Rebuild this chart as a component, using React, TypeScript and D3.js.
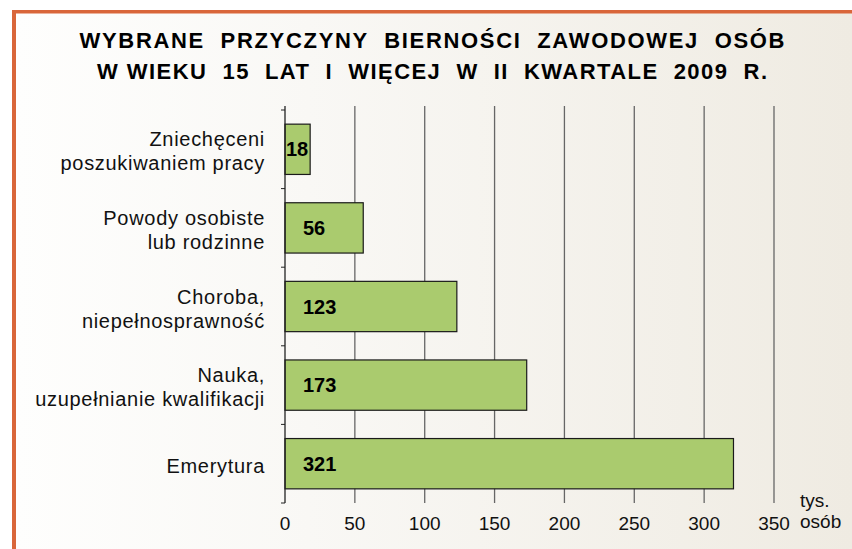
import React from "react";
import * as d3 from "d3";

const titleLines = [
  "WYBRANE  PRZYCZYNY  BIERNOŚCI  ZAWODOWEJ  OSÓB",
  "W WIEKU  15  LAT  I  WIĘCEJ  W  II  KWARTALE  2009  R.",
];
const categories = [
  ["Zniechęceni", "poszukiwaniem pracy"],
  ["Powody osobiste", "lub rodzinne"],
  ["Choroba,", "niepełnosprawność"],
  ["Nauka,", "uzupełnianie kwalifikacji"],
  ["Emerytura"],
];
const values = [18, 56, 123, 173, 321];
const xTicks = [0, 50, 100, 150, 200, 250, 300, 350];
const unitLabel = ["tys.", "osób"];

const W = 852;
const H = 549;
const FONT = "'Liberation Sans', Arial, sans-serif";

export default function App() {
  const x = d3.scaleLinear().domain([0, 350]).range([285, 774]);
  const keys = categories.map((c) => c.join(" "));
  const y = d3
    .scaleBand<string>()
    .domain(keys)
    .range([110, 503])
    .paddingInner(0.36)
    .paddingOuter(0.18);
  const step = y.step();
  const top = 110;
  const bottom = 503;
  const x0 = x(0);

  return (
    <svg
      width={W}
      height={H}
      style={{ position: "absolute", left: 0, top: 0 }}
      fontFamily={FONT}
    >
      <defs>
        <linearGradient id="bg" x1="0" y1="0" x2="1" y2="0">
          <stop offset="0" stopColor="#fefefd" />
          <stop offset="0.35" stopColor="#f9f8f5" />
          <stop offset="1" stopColor="#efebe2" />
        </linearGradient>
      </defs>
      <rect x={0} y={0} width={W} height={H} fill="#ffffff" />
      <rect x={16} y={13} width={W - 16} height={H - 13} fill="url(#bg)" />
      <rect x={12} y={10} width={W - 12} height={3.5} fill="#d9663a" />
      <rect x={12} y={10} width={4} height={H - 10} fill="#d9663a" />

      {titleLines.map((t, i) => (
        <text
          key={i}
          x={432}
          y={48 + i * 31}
          textAnchor="middle"
          fontSize={22}
          fontWeight="bold"
          fill="#000"
          textLength={i === 0 ? 705 : 670}
          lengthAdjust="spacing"
          style={{ whiteSpace: "pre" }}
        >
          {t}
        </text>
      ))}

      {/* gridlines */}
      {xTicks.slice(1).map((t) => (
        <line
          key={t}
          x1={x(t)}
          x2={x(t)}
          y1={106}
          y2={bottom}
          stroke="#666"
          strokeWidth={1.3}
        />
      ))}

      {/* bars */}
      {keys.map((k, i) => (
        <rect
          key={k}
          x={x0}
          y={y(k)!}
          width={x(values[i]) - x0}
          height={y.bandwidth()}
          fill="#aacb6e"
          stroke="#1a1a1a"
          strokeWidth={1.2}
        />
      ))}

      {/* y axis */}
      <line x1={x0} x2={x0} y1={106} y2={bottom} stroke="#222" strokeWidth={1.3} />
      {d3.range(keys.length + 1).map((k) => (
        <line
          key={k}
          x1={x0 - 4}
          x2={x0}
          y1={top + k * step}
          y2={top + k * step}
          stroke="#222"
          strokeWidth={1}
        />
      ))}

      {/* value labels */}
      {keys.map((k, i) => {
        const w = x(values[i]) - x0;
        const c = y(k)! + y.bandwidth() / 2;
        return (
          <text
            key={k}
            x={w < 40 ? x0 + 1 : x0 + 18}
            y={c + 7}
            fontSize={20}
            fontWeight="bold"
            fill="#000"
          >
            {values[i]}
          </text>
        );
      })}

      {/* category labels */}
      {categories.map((lines, i) => {
        const c = y(keys[i])! + y.bandwidth() / 2;
        return lines.map((l, j) => (
          <text
            key={i + "-" + j}
            x={265}
            y={lines.length === 1 ? c + 9 : c - 3 + j * 24}
            textAnchor="end"
            fontSize={20}
            fill="#111"
            letterSpacing={0.7}
          >
            {l}
          </text>
        ));
      })}

      {/* x tick labels */}
      {xTicks.map((t) => (
        <text
          key={t}
          x={x(t)}
          y={530}
          textAnchor="middle"
          fontSize={19}
          fill="#111"
        >
          {t}
        </text>
      ))}
      {unitLabel.map((u, i) => (
        <text key={u} x={800} y={507 + i * 21} fontSize={19} fill="#111">
          {u}
        </text>
      ))}
    </svg>
  );
}
